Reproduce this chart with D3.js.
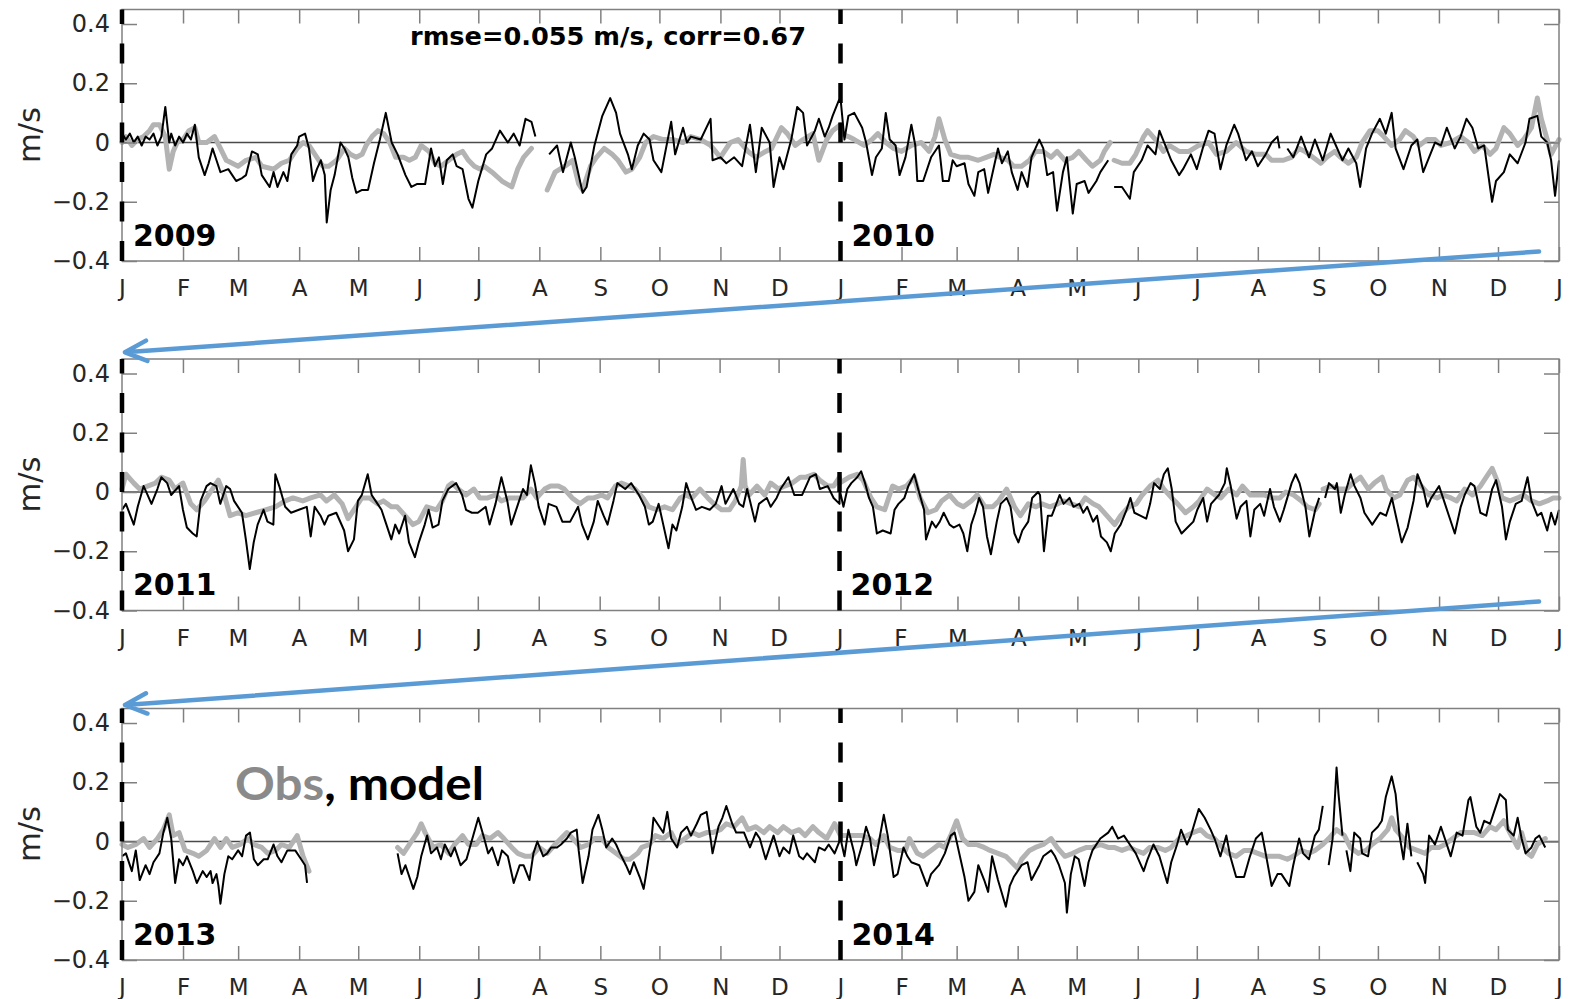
<!DOCTYPE html>
<html>
<head>
<meta charset="utf-8">
<script src="https://cdn.jsdelivr.net/npm/d3@7"></script>
<style>
  body { margin: 0; background: #fff; }
  svg { display: block; }
</style>
</head>
<body>
<svg id="chart" width="1575" height="999"></svg>
<script>
// Daily along-shore velocity. Each point is [day of year, value in cm/s]; null marks missing data.
const model2009 = [[0,3],[2,1],[4,3],[6,0],[8,2],[10,-1],[12,2],[14,1],[16,3],[18,-1],[20,2],[22,12],[24,0],[25,3],[27,-1],[29,2],[31,0],[33,3],[35,1],[37,6],[39,-5],[42,-11],[44,-7],[46,-2],[48,-6],[50,-10],[54,-9],[56,-11],[58,-13],[61,-12],[63,-11],[66,-3],[69,-4],[71,-11],[75,-15],[77,-10],[79,-15],[82,-10],[84,-13],[86,-4],[89,-1],[90,2],[93,3],[95,-2],[97,-13],[99,-9],[101,-6],[103,-11],[104,-27],[106,-16],[108,-11],[111,0],[113,-2],[115,-5],[117,-12],[119,-17],[122,-16],[125,-16],[128,-7],[131,1],[134,10],[137,0],[140,-4],[144,-11],[147,-15],[150,-14],[154,-14],[157,-2],[159,-8],[161,-5],[163,-14],[165,-6],[168,-4],[170,-8],[173,-9],[176,-19],[178,-22],[181,-13],[185,-4],[188,-2],[192,4],[196,0],[199,3],[202,-1],[205,8],[208,7],[210,2],[213,null],[217,-4],[221,-1],[224,-10],[228,0],[230,-5],[234,-17],[236,-15],[240,-1],[244,9],[248,15],[251,10],[253,3],[257,-4],[259,-9],[262,-1],[265,3],[268,1],[270,-6],[274,-10],[279,7],[281,-4],[285,5],[287,0],[289,2],[294,1],[299,8],[300,-6],[304,-5],[307,-7],[311,-5],[315,-8],[319,6],[322,-10],[325,5],[329,0],[331,-15],[334,-5],[336,-9],[340,1],[343,12],[346,10],[348,-1],[352,4],[354,8],[357,2],[359,5],[361,9],[364,14]];
const obs2009 = [[0,0],[2,2],[5,-1],[8,1],[11,2],[14,4],[16,6],[19,6],[22,2],[24,-9],[26,-3],[28,0],[31,1],[34,4],[37,5],[39,0],[43,0],[47,2],[50,-2],[53,-6],[56,-7],[59,-8],[63,-6],[68,-5],[71,-8],[77,-9],[81,-7],[85,-6],[89,-2],[92,0],[95,-1],[99,-5],[102,-8],[105,-8],[109,-6],[113,-2],[116,-4],[119,-5],[122,-4],[124,-1],[127,2],[130,4],[133,3],[136,0],[139,-5],[143,-5],[146,-6],[149,-5],[152,-1],[156,-3],[159,-7],[162,-8],[166,-6],[170,-4],[173,-3],[176,-6],[179,-8],[182,-9],[184,-8],[188,-10],[193,-13],[198,-15],[201,-9],[204,-5],[208,-2],[212,null],[216,-16],[220,-10],[225,-8],[229,-6],[232,-14],[234,-16],[238,-8],[241,-5],[245,-2],[249,-4],[252,-6],[256,-10],[259,-9],[263,-5],[266,0],[270,2],[275,1],[280,1],[285,0],[289,2],[294,1],[299,-1],[304,-5],[309,0],[313,1],[318,-3],[322,-5],[327,-3],[330,-2],[335,5],[338,3],[342,-1],[346,1],[351,3],[354,-6],[358,1],[361,4],[365,6]];
const model2010 = [[0,15],[2,1],[4,9],[7,10],[11,5],[13,0],[16,-11],[18,-5],[21,-2],[23,10],[25,1],[28,-1],[30,-11],[33,-5],[36,6],[38,-1],[39,-13],[42,-13],[46,-5],[50,-1],[52,-13],[55,-13],[57,-6],[59,-8],[63,-7],[65,-14],[68,-18],[70,-10],[73,-9],[75,-17],[78,-8],[80,-2],[82,-7],[85,-3],[87,-10],[90,-16],[92,-10],[95,-15],[97,-5],[101,1],[103,-2],[105,-11],[108,-10],[110,-23],[113,-10],[115,-5],[118,-24],[120,-14],[124,-13],[126,-17],[130,-13],[132,-10],[136,-6],[137,null],[139,-15],[143,-15],[147,-19],[149,-10],[153,-6],[156,-1],[160,-4],[162,4],[165,-1],[168,-6],[172,-11],[174,-9],[178,-4],[181,-9],[184,-2],[187,4],[190,3],[193,-9],[196,-1],[200,6],[202,3],[206,-6],[209,-3],[212,-8],[216,-4],[219,0],[222,2],[223,-2],[225,null],[227,-2],[230,-5],[234,2],[238,-5],[241,1],[245,-6],[249,3],[251,0],[255,-6],[258,-2],[262,-7],[264,-15],[267,-2],[270,3],[274,8],[277,3],[280,10],[282,-2],[286,-9],[290,-1],[293,1],[296,-10],[299,-5],[302,0],[305,-1],[308,5],[312,-2],[315,2],[318,8],[321,5],[324,-2],[327,-1],[331,-20],[333,-13],[337,-10],[340,-4],[344,-7],[348,0],[350,8],[354,9],[356,2],[359,0],[361,-6],[363,-18],[365,-6]];
const obs2010 = [[0,3],[4,2],[7,1],[12,-1],[16,1],[19,3],[23,0],[27,-2],[31,-3],[36,-1],[41,0],[45,-3],[48,2],[50,8],[53,1],[56,-4],[61,-5],[65,-5],[70,-6],[74,-5],[78,-4],[81,-5],[85,-6],[88,-8],[92,-8],[96,-6],[99,-3],[103,-3],[107,-5],[110,-3],[114,-6],[118,-5],[121,-3],[125,-6],[128,-8],[132,-6],[134,-3],[137,0],[138,null],[139,-6],[143,-7],[147,-7],[150,-4],[154,2],[156,4],[160,1],[164,-3],[167,-1],[172,-3],[177,-3],[182,-1],[187,0],[191,-4],[196,-3],[201,0],[206,-3],[211,-4],[216,-4],[219,-6],[223,-6],[225,-6],[229,-5],[233,-2],[236,-3],[240,-5],[244,-7],[247,-5],[251,-3],[254,-5],[258,-7],[262,-5],[265,0],[269,4],[273,4],[276,2],[280,-1],[284,1],[287,4],[291,2],[294,-1],[298,1],[302,1],[305,-1],[310,0],[315,2],[319,0],[322,-3],[326,-1],[330,-4],[333,-2],[337,5],[340,3],[344,-1],[347,1],[351,5],[354,15],[356,8],[359,1],[361,-4],[365,1]];
const model2011 = [[0,-6],[2,-4],[6,-11],[8,-5],[11,2],[13,-1],[15,-4],[18,1],[20,5],[23,3],[25,-1],[29,2],[31,-6],[33,-12],[36,-14],[38,-15],[40,-3],[43,2],[45,3],[48,2],[50,-4],[53,2],[55,1],[57,-3],[61,-7],[63,-16],[65,-26],[67,-17],[69,-11],[72,-6],[74,-10],[77,-11],[78,6],[80,2],[83,-5],[86,-7],[90,-6],[94,-5],[96,-15],[98,-5],[101,-8],[103,-11],[105,-8],[109,-7],[113,-13],[115,-20],[118,-16],[120,-3],[122,-1],[125,6],[127,-1],[130,-4],[132,-6],[134,-10],[137,-16],[139,-11],[141,-14],[144,-8],[146,-17],[149,-22],[151,-17],[154,-11],[156,-6],[158,-12],[161,-11],[163,-3],[166,1],[170,3],[173,-1],[175,-6],[178,-7],[181,-7],[185,-5],[187,-11],[190,-4],[193,5],[196,-3],[198,-11],[201,-5],[204,1],[206,-1],[208,9],[210,3],[212,-5],[215,-11],[217,-4],[221,-5],[224,-10],[228,-10],[232,-5],[234,-11],[237,-16],[240,-10],[242,-3],[245,-8],[247,-11],[250,-3],[252,3],[256,1],[259,3],[263,-1],[266,-5],[268,-11],[270,-10],[273,-4],[275,-10],[278,-19],[280,-11],[282,-13],[285,-5],[287,3],[289,-1],[292,-6],[295,-5],[299,-6],[302,-4],[305,2],[307,-4],[311,1],[314,-4],[316,-5],[318,1],[322,-10],[324,-4],[328,-2],[330,-5],[333,-2],[335,1],[339,5],[342,-1],[346,-1],[350,5],[353,6],[355,1],[359,2],[362,-2],[365,-4]];
const obs2011 = [[0,1],[2,6],[6,3],[9,1],[13,2],[17,3],[20,5],[24,4],[27,1],[31,3],[35,-4],[38,-6],[42,-3],[46,1],[49,4],[52,-1],[55,-8],[59,-7],[63,-8],[68,-7],[73,-6],[78,-5],[83,-3],[87,-2],[92,-3],[96,-2],[101,-1],[104,-3],[108,-1],[112,-4],[115,-9],[119,-5],[122,-2],[126,-2],[130,-4],[133,-3],[137,-5],[140,-5],[144,-8],[148,-11],[151,-10],[155,-5],[160,-6],[163,-3],[166,2],[168,3],[171,1],[175,-1],[179,1],[182,-2],[186,-2],[190,-1],[193,-3],[197,-2],[200,-2],[204,-2],[208,1],[211,-2],[215,1],[218,2],[222,2],[225,1],[229,-2],[233,-4],[237,-2],[240,-2],[244,-1],[247,-2],[251,2],[254,3],[258,2],[261,1],[265,-2],[268,-5],[272,-6],[276,-5],[280,-6],[284,-2],[287,-1],[290,-2],[294,1],[298,-2],[301,-4],[305,-6],[309,-6],[312,-3],[315,2],[316,11],[317,2],[319,-1],[323,2],[327,-1],[330,3],[334,1],[337,2],[341,3],[345,5],[348,5],[352,6],[355,4],[359,2],[362,2],[365,5]];
const model2012 = [[0,1],[2,-5],[4,1],[6,3],[9,5],[11,7],[13,3],[15,-2],[17,-5],[19,-14],[22,-13],[26,-14],[28,-6],[30,-4],[33,-2],[35,2],[38,6],[40,1],[43,-6],[44,-16],[47,-10],[49,-12],[51,-10],[53,-7],[56,-11],[58,-12],[61,-11],[63,-14],[65,-20],[67,-11],[69,-7],[71,-2],[73,-5],[75,-15],[77,-21],[80,-10],[82,-4],[85,-2],[87,-5],[89,-14],[91,-17],[93,-13],[96,-10],[98,-2],[101,0],[102,-1],[104,-20],[106,-8],[108,-8],[112,-1],[114,-4],[117,-2],[119,-5],[122,-4],[124,-7],[126,-5],[129,-10],[131,-8],[133,-15],[136,-17],[138,-20],[140,-14],[143,-11],[146,-6],[148,-2],[150,-7],[153,-8],[156,-9],[158,-4],[160,3],[163,1],[165,6],[167,8],[169,1],[171,-10],[174,-14],[177,-12],[180,-10],[182,-6],[185,-2],[187,-10],[189,-4],[193,-1],[196,3],[197,8],[199,2],[202,-9],[204,-5],[207,-3],[209,-15],[211,-6],[214,-4],[216,-8],[219,1],[221,-5],[224,-10],[226,-6],[230,3],[232,6],[234,3],[237,-5],[239,-15],[242,-6],[244,-2],[245,null],[247,-2],[249,3],[252,1],[253,3],[255,-7],[257,-1],[260,6],[262,2],[265,-2],[267,-7],[271,-11],[275,-7],[278,-8],[281,-2],[283,-8],[286,-17],[289,-12],[292,-3],[294,6],[297,1],[299,-5],[301,-2],[305,2],[307,-2],[310,-8],[313,-14],[316,-5],[318,-1],[321,3],[323,2],[326,-7],[329,-8],[332,1],[334,4],[337,-5],[339,-16],[341,-10],[344,-4],[347,-3],[350,5],[352,-3],[355,-8],[357,-7],[360,-13],[362,-7],[364,-11],[366,-6]];
const obs2012 = [[0,3],[5,5],[9,6],[12,4],[16,-2],[19,-5],[23,-6],[27,2],[30,1],[34,2],[38,5],[41,-2],[45,-7],[49,-6],[52,-3],[56,-1],[60,-4],[63,-5],[67,-3],[70,-1],[74,-5],[78,-5],[81,-3],[85,1],[89,-5],[92,-8],[96,-4],[100,-5],[103,-4],[107,-5],[111,-4],[114,-3],[118,-4],[122,-5],[125,-2],[129,-4],[132,-5],[136,-8],[140,-11],[143,-8],[147,-5],[151,-4],[154,-1],[158,2],[162,4],[165,1],[169,-2],[172,-4],[176,-7],[180,-5],[183,-3],[187,1],[191,-1],[194,-2],[198,1],[202,-1],[205,2],[209,-1],[213,-1],[216,-1],[220,-2],[224,-2],[227,0],[231,-1],[235,-3],[238,-5],[242,-6],[244,-4],[245,null],[246,1],[250,2],[254,1],[258,1],[261,3],[265,5],[269,1],[272,3],[276,5],[278,1],[282,-2],[285,-1],[289,4],[292,5],[296,2],[300,-1],[304,-2],[307,-1],[311,-2],[314,-3],[318,1],[322,-1],[326,2],[329,5],[332,8],[335,3],[337,-2],[341,-3],[345,-2],[348,-1],[352,-3],[356,-4],[360,-3],[363,-2],[366,-2]];
const model2013 = [[0,-5],[2,-4],[5,-10],[7,-3],[9,-13],[12,-8],[14,-11],[16,-7],[19,-4],[21,3],[23,8],[25,1],[27,-14],[29,-6],[31,-8],[33,-5],[36,-10],[38,-14],[41,-10],[43,-12],[45,-10],[46,-14],[48,-11],[49,-15],[50,-21],[52,-11],[54,-5],[56,-6],[59,-3],[61,-5],[63,2],[65,3],[67,-6],[69,-8],[72,-6],[74,-6],[77,-1],[79,-5],[81,-7],[84,-3],[86,-3],[88,-3],[91,-6],[93,-8],[94,-14],[95,null],[140,-4],[142,-11],[144,-8],[148,-16],[150,-12],[152,-5],[155,2],[157,-4],[160,-2],[162,-6],[164,-1],[167,-5],[169,-2],[172,-8],[175,-6],[178,1],[181,8],[184,1],[186,-4],[188,-2],[191,-8],[193,-3],[196,-5],[199,-14],[202,-8],[204,-8],[207,-13],[209,-4],[211,0],[214,-5],[216,-4],[218,-2],[221,-2],[223,-1],[226,1],[228,3],[231,4],[232,-3],[234,-14],[237,-5],[239,4],[242,9],[244,4],[246,-2],[249,1],[251,-1],[253,-4],[256,-8],[258,-11],[260,-7],[263,-12],[265,-16],[266,-12],[269,1],[270,8],[273,5],[275,3],[277,10],[279,1],[282,-2],[284,3],[287,5],[289,2],[292,6],[294,9],[297,10],[299,1],[300,-4],[303,5],[305,8],[307,12],[310,6],[312,3],[316,3],[319,-2],[322,3],[324,1],[327,-6],[329,-2],[331,2],[334,-5],[336,-2],[339,-4],[341,2],[344,-5],[346,-6],[348,-4],[352,-7],[354,-2],[357,-3],[359,-1],[362,-4],[365,1]];
const obs2013 = [[0,-1],[3,-2],[7,-1],[11,1],[14,-2],[18,1],[21,4],[24,9],[26,2],[29,3],[32,-3],[36,-4],[39,-5],[43,-3],[47,1],[50,-2],[53,1],[56,-2],[60,-1],[64,1],[67,-1],[71,-2],[74,-4],[78,-3],[81,-1],[85,-2],[89,2],[92,-5],[95,-10],[96,null],[140,-2],[143,-4],[146,-1],[150,3],[152,6],[154,3],[158,-2],[162,-1],[166,-4],[169,-1],[173,2],[176,-1],[180,-1],[183,2],[187,1],[191,3],[194,1],[198,-2],[201,-4],[205,-5],[208,-5],[212,-2],[216,-4],[220,-1],[223,1],[226,3],[229,1],[233,-2],[237,-1],[240,1],[244,1],[247,-2],[251,-4],[255,-6],[258,-6],[262,-4],[264,-2],[268,-1],[271,2],[275,1],[279,3],[282,-1],[286,1],[290,3],[293,2],[297,3],[300,3],[304,4],[307,6],[311,5],[315,8],[318,4],[322,5],[326,3],[329,5],[333,3],[336,5],[340,3],[344,4],[347,2],[351,5],[354,3],[358,1],[362,6],[365,2]];
const model2014 = [[0,1],[2,-5],[4,4],[7,-4],[8,-8],[11,-1],[13,5],[15,1],[17,-8],[19,-2],[22,9],[24,2],[27,-12],[29,-11],[32,-2],[34,-5],[36,-7],[40,-8],[44,-15],[46,-11],[50,-8],[53,-4],[56,2],[58,3],[61,-6],[63,-12],[65,-20],[68,-17],[70,-8],[73,-13],[75,-17],[77,-5],[80,-13],[84,-22],[86,-15],[88,-12],[92,-8],[95,-7],[97,-13],[101,-8],[103,-5],[107,-3],[109,-5],[111,-8],[114,-14],[115,-24],[117,-11],[119,-5],[121,-6],[124,-15],[126,-7],[128,-3],[132,1],[136,3],[138,5],[141,1],[144,2],[148,-2],[150,-4],[154,-10],[156,-6],[159,-1],[162,-5],[166,-14],[168,-7],[171,-1],[173,4],[176,-1],[178,2],[182,11],[185,8],[188,4],[190,1],[193,-5],[196,2],[198,-5],[201,-12],[205,-12],[208,-5],[211,1],[214,3],[216,-4],[219,-15],[222,-11],[224,-11],[228,-15],[230,-8],[233,1],[235,-4],[238,-6],[241,2],[243,4],[245,12],[246,null],[248,-8],[250,1],[252,25],[253,16],[255,2],[256,null],[257,-3],[259,-10],[261,3],[264,1],[265,-4],[268,-5],[270,3],[273,5],[275,7],[277,15],[280,22],[282,16],[284,2],[286,-6],[288,6],[290,-5],[291,null],[293,-7],[296,-11],[297,-14],[299,2],[302,-1],[305,5],[307,1],[310,-5],[313,3],[316,2],[319,14],[320,15],[323,5],[325,3],[327,7],[330,6],[332,10],[335,16],[338,14],[339,4],[342,2],[344,8],[346,1],[348,-4],[351,-2],[353,1],[355,2],[358,-2]];
const obs2014 = [[0,2],[4,2],[7,2],[11,2],[15,1],[18,-1],[22,2],[25,-2],[29,-3],[33,-3],[35,1],[39,-4],[42,-5],[46,-3],[50,-1],[53,-2],[56,2],[59,7],[62,1],[65,-1],[69,-1],[73,-2],[76,-3],[80,-4],[84,-5],[87,-7],[90,-9],[92,-6],[96,-3],[99,-2],[103,-1],[107,1],[110,-2],[114,-5],[118,-4],[121,-3],[125,-2],[128,-2],[132,-1],[136,-2],[139,-2],[143,-3],[147,-2],[150,-3],[154,-4],[157,-2],[161,-2],[165,-3],[168,-2],[172,1],[176,2],[179,3],[183,4],[186,2],[190,1],[194,-2],[197,-4],[201,-5],[205,-3],[208,-3],[212,-4],[216,-5],[219,-5],[223,-5],[227,-6],[230,-5],[234,-3],[238,-4],[241,-3],[245,-1],[248,1],[252,4],[256,2],[259,-2],[263,-4],[267,-3],[270,-1],[274,1],[278,4],[280,8],[282,4],[286,1],[289,-2],[293,-3],[297,-4],[300,-2],[304,-2],[307,-1],[311,1],[315,3],[318,3],[322,3],[326,2],[330,5],[333,4],[337,7],[340,3],[344,-2],[346,3],[349,-4],[351,-5],[354,-1],[358,1]];

const monthLetters = ["J","F","M","A","M","J","J","A","S","O","N","D"];
const yTicks = [-0.4, -0.2, 0, 0.2, 0.4];
const yTickLabels = ["\u22120.4", "\u22120.2", "0", "0.2", "0.4"];
const yAxisTitle = "m/s";
const statsText = "rmse=0.055 m/s, corr=0.67";

// Each panel shows two consecutive years
const panels = [
  { years: [2009, 2010], obs: [obs2009, obs2010], model: [model2009, model2010], bottom: 261 },
  { years: [2011, 2012], obs: [obs2011, obs2012], model: [model2011, model2012], bottom: 610.5 },
  { years: [2013, 2014], obs: [obs2013, obs2014], model: [model2013, model2014], bottom: 960 }
];

const X0 = 122, X1 = 1559;
const plotH = 251.5;
const FONT = "'DejaVu Sans', sans-serif";
const DAY = 864e5;

const svg = d3.select("#chart");

function toSeries(years, arrays) {
  const out = [];
  years.forEach((yr, i) => {
    arrays[i].forEach(([d, v]) => {
      out.push({ date: new Date(Date.UTC(yr, 0, 1) + d * DAY), v: v === null ? null : v / 100 });
    });
  });
  return out;
}

panels.forEach(p => {
  const y0 = p.years[0];
  const start = new Date(Date.UTC(y0, 0, 1));
  const mid = new Date(Date.UTC(y0 + 1, 0, 1));
  const end = new Date(Date.UTC(y0 + 2, 0, 1));
  const top = p.bottom - plotH;

  const x = d3.scaleUtc().domain([start, end]).range([X0, X1]);
  const y = d3.scaleLinear().domain([-0.4, 0.449]).range([p.bottom, top]);

  const g = svg.append("g");

  // zero reference line
  g.append("line")
    .attr("x1", X0).attr("x2", X1)
    .attr("y1", y(0)).attr("y2", y(0))
    .attr("stroke", "#4a4a4a").attr("stroke-width", 1.5);

  const line = d3.line()
    .defined(d => d.v !== null)
    .x(d => x(d.date))
    .y(d => y(d.v));

  // observations (thick grey) then model (thin black)
  g.append("path")
    .datum(toSeries(p.years, p.obs))
    .attr("d", line)
    .attr("fill", "none")
    .attr("stroke", "#b3b3b3")
    .attr("stroke-width", 5)
    .attr("stroke-linejoin", "round")
    .attr("stroke-linecap", "round");

  g.append("path")
    .datum(toSeries(p.years, p.model))
    .attr("d", line)
    .attr("fill", "none")
    .attr("stroke", "#000")
    .attr("stroke-width", 2)
    .attr("stroke-linejoin", "round");

  // frame
  g.append("rect")
    .attr("x", X0).attr("y", top)
    .attr("width", X1 - X0).attr("height", plotH)
    .attr("fill", "none")
    .attr("stroke", "#808080").attr("stroke-width", 1.5);

  const months = d3.utcMonth.range(start, new Date(+end + 1));

  const styleAxis = sel => {
    sel.select(".domain").remove();
    sel.selectAll(".tick line").attr("stroke", "#808080").attr("stroke-width", 1.5);
    sel.selectAll(".tick text")
      .attr("fill", "#262626")
      .style("font-family", FONT)
      .style("font-size", "23px");
  };

  g.append("g")
    .attr("transform", `translate(0,${p.bottom})`)
    .call(d3.axisBottom(x).tickValues(months).tickSize(-14).tickPadding(19)
      .tickFormat(d => monthLetters[d.getUTCMonth()]))
    .call(styleAxis);

  g.append("g")
    .attr("transform", `translate(0,${top})`)
    .call(d3.axisTop(x).tickValues(months).tickSize(-14).tickFormat(""))
    .call(styleAxis);

  g.append("g")
    .attr("transform", `translate(${X0},0)`)
    .call(d3.axisLeft(y).tickValues(yTicks).tickSize(-15).tickPadding(12)
      .tickFormat((d, i) => yTickLabels[i]))
    .call(styleAxis)
    .call(s => s.selectAll(".tick text").style("font-size", "24px"));

  g.append("g")
    .attr("transform", `translate(${X1},0)`)
    .call(d3.axisRight(y).tickValues(yTicks).tickSize(-15).tickFormat(""))
    .call(styleAxis);

  // dashed year markers
  [start, mid].forEach(dt => {
    g.append("line")
      .attr("x1", x(dt)).attr("x2", x(dt))
      .attr("y1", p.bottom).attr("y2", top)
      .attr("stroke", "#000").attr("stroke-width", 4.5)
      .attr("stroke-dasharray", "20,19.5");
  });

  // year labels
  [start, mid].forEach((dt, i) => {
    g.append("text")
      .attr("x", x(dt) + 11).attr("y", p.bottom - 15.5)
      .attr("fill", "#000")
      .style("font-family", FONT)
      .style("font-weight", "bold")
      .style("font-size", "30px")
      .text(p.years[i]);
  });

  // y-axis title
  g.append("text")
    .attr("transform", `translate(40,${y(0) - 7.5}) rotate(-90)`)
    .attr("text-anchor", "middle")
    .attr("fill", "#262626")
    .attr("textLength", 56)
    .attr("lengthAdjust", "spacingAndGlyphs")
    .style("font-family", FONT)
    .style("font-size", "31px")
    .text(yAxisTitle);
});

// statistics annotation
svg.append("text")
  .attr("x", 410).attr("y", 44.5)
  .attr("fill", "#000")
  .attr("textLength", 396)
  .attr("lengthAdjust", "spacingAndGlyphs")
  .style("font-family", FONT)
  .style("font-weight", "bold")
  .style("font-size", "24px")
  .text(statsText);

// legend
const legend = svg.append("text")
  .attr("x", 235).attr("y", 800)
  .attr("textLength", 249)
  .attr("lengthAdjust", "spacingAndGlyphs")
  .style("font-family", "Lato, 'Open Sans', sans-serif")
  .style("font-weight", "bold")
  .style("font-size", "46px");
legend.append("tspan").attr("fill", "#8a8a8a").text("Obs");
legend.append("tspan").attr("fill", "#000").text(", model");

// connecting arrows between consecutive panels
const arrows = [
  { from: [1539, 251.5], to: [125, 352.3] },
  { from: [1539, 601.5], to: [125, 705] }
];
arrows.forEach(a => {
  const [x1, y1] = a.from, [x2, y2] = a.to;
  const ang = Math.atan2(y1 - y2, x1 - x2);
  const L = 24, spread = 25 * Math.PI / 180;
  const w1 = [x2 + L * Math.cos(ang - spread), y2 + L * Math.sin(ang - spread)];
  const w2 = [x2 + L * Math.cos(ang + spread), y2 + L * Math.sin(ang + spread)];
  svg.append("path")
    .attr("d", `M${x1},${y1}L${x2},${y2}M${w1[0]},${w1[1]}L${x2},${y2}L${w2[0]},${w2[1]}`)
    .attr("fill", "none")
    .attr("stroke", "#5b9bd5")
    .attr("stroke-width", 4.5)
    .attr("stroke-linecap", "round")
    .attr("stroke-linejoin", "round");
});
</script>
</body>
</html>
